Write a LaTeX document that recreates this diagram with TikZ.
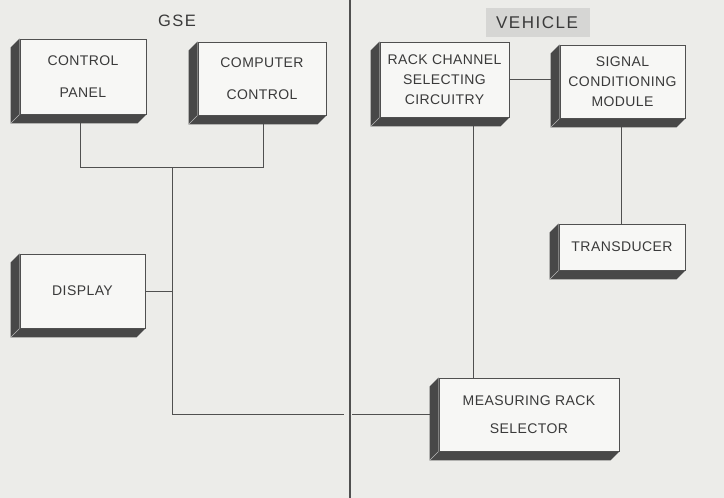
\documentclass[tikz,border=0pt]{standalone}
\usepackage{fontspec}
\setmainfont{Liberation Sans}
\newfontfamily\lbl[LetterSpace=3]{Liberation Sans}
\newfontfamily\ttl[LetterSpace=9]{Liberation Sans}
\usetikzlibrary{calc}
\pgfdeclarelayer{paperl}
\pgfdeclarelayer{bg}
\pgfdeclarelayer{mid}
\pgfsetlayers{paperl,bg,mid,main}
\definecolor{paper}{RGB}{236,236,233}
\definecolor{facec}{RGB}{247,247,245}
\definecolor{shadec}{RGB}{72,72,72}
\definecolor{linec}{RGB}{80,80,80}
\definecolor{textc}{RGB}{58,58,58}
\definecolor{tagbg}{RGB}{214,214,212}
\newcommand\mkshade[1]{%
  \fill[shadec] (#1.north west) -- ++(-9,9) -- ($(#1.south west)+(-9,9)$)
    -- ($(#1.south east)+(-9,9)$) -- (#1.south east) -- (#1.south west) -- cycle;
  \draw[gray!55, line width=0.4pt] (#1.south west) -- ++(-9,9);}
\begin{document}
\begin{tikzpicture}[x=1pt,y=-1pt,
  blk/.style={draw=linec, fill=facec, line width=0.8pt, inner sep=0pt,
    align=center, text=textc},
  twoline/.style={font=\lbl\fontsize{14}{32}\selectfont},
  threeline/.style={font=\lbl\fontsize{14}{20}\selectfont},
  oneline/.style={font=\lbl\fontsize{14}{17}\selectfont},
  conn/.style={draw=linec, line width=0.9pt},
  title/.style={font=\ttl\fontsize{16.5}{20}\selectfont, text=textc, inner sep=0pt}]
\begin{pgfonlayer}{paperl}
  \fill[paper] (0,0) rectangle (724,498);
  \fill[tagbg] (486,8) rectangle (590,37);
\end{pgfonlayer}
\useasboundingbox (0,0) rectangle (724,498);

% section labels
\node[title] (gse) at (177,21) {GSE};
\node[title, font=\ttl\fontsize{17}{20}\selectfont] (veh) at (537,23) {VEHICLE};

% blocks
\node[blk, twoline, minimum width=126pt, minimum height=75pt] (cp) at (83,76.5) {CONTROL\\PANEL};
\node[blk, twoline, minimum width=128pt, minimum height=73pt] (cc) at (262,78.5) {COMPUTER\\CONTROL};
\node[blk, oneline, minimum width=125pt, minimum height=74pt] (disp) at (82.5,291) {DISPLAY};
\node[blk, threeline, minimum width=129pt, minimum height=75pt] (rc) at (444.5,79.5) {RACK CHANNEL\\SELECTING\\CIRCUITRY};
\node[blk, threeline, minimum width=125pt, minimum height=73pt] (sc) at (622.5,81.5) {SIGNAL\\CONDITIONING\\MODULE};
\node[blk, oneline, minimum width=126pt, minimum height=46pt] (tr) at (622,247) {TRANSDUCER};
\node[blk, font=\lbl\fontsize{14}{27.5}\selectfont, minimum width=180pt, minimum height=73pt] (mr) at (529,414.5) {MEASURING RACK\\SELECTOR};

\begin{pgfonlayer}{mid}
  \mkshade{cp}\mkshade{cc}\mkshade{disp}\mkshade{rc}\mkshade{sc}\mkshade{tr}\mkshade{mr}
\end{pgfonlayer}

% connectors and divider
\coordinate (j1) at (172,167);
\coordinate (dtop) at (350,0);
\coordinate (dbot) at (350,498);
\begin{pgfonlayer}{bg}
  \path[conn] ([xshift=-3pt]cp.south) -- ([xshift=-3pt]cp.south |- j1) -- ([xshift=1pt]cc.south |- j1) -- ([xshift=1pt]cc.south);
  \path[conn] (j1) -- (j1 |- mr.west) -- ([xshift=-9pt]mr.west);
  \fill[paper] ($(dtop |- mr.west)+(-6,-2)$) rectangle ($(dtop |- mr.west)+(2,2)$);
  \draw[linec, line width=1.2pt] (dtop) -- (dbot);
  \path[conn] (disp.east) -- (disp.east -| j1);
  \path[conn] ([xshift=28.5pt]rc.south) -- ([xshift=28.5pt]rc.south |- mr.north);
  \path[conn] (rc.east) -- ($(rc.east -| sc.west)+(-9,0)$);
  \path[conn] ([xshift=-1pt]sc.south) -- ([xshift=-1pt]sc.south |- tr.north);
\end{pgfonlayer}
\end{tikzpicture}
\end{document}
